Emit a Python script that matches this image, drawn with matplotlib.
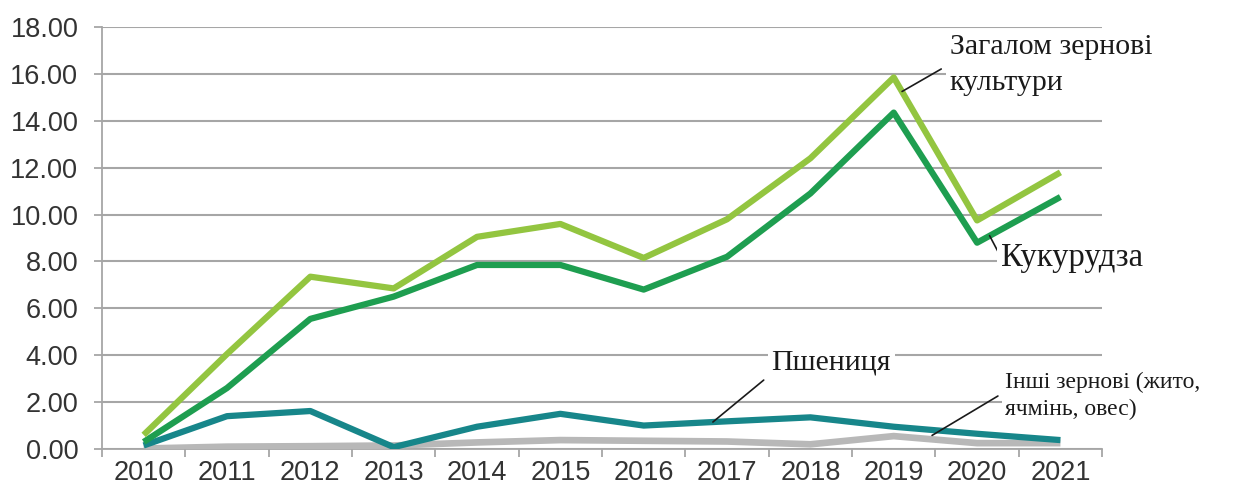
"""Grain export chart: total grains, corn, wheat and other grains, 2010-2021."""

import matplotlib

matplotlib.use("Agg")
import matplotlib.pyplot as plt
import numpy as np

years = ["2010", "2011", "2012", "2013", "2014", "2015",
         "2016", "2017", "2018", "2019", "2020", "2021"]
total = [0.6, 4.05, 7.35, 6.85, 9.05, 9.6, 8.15, 9.8, 12.4, 15.85, 9.75, 11.8]
corn = [0.3, 2.6, 5.55, 6.5, 7.85, 7.85, 6.8, 8.2, 10.9, 14.35, 8.8, 10.75]
wheat = [0.15, 1.4, 1.62, 0.08, 0.95, 1.5, 1.0, 1.18, 1.35, 0.95, 0.65, 0.38]
other = [0.02, 0.1, 0.12, 0.15, 0.28, 0.38, 0.35, 0.32, 0.2, 0.55, 0.25, 0.25]
y_ticks = [0, 2, 4, 6, 8, 10, 12, 14, 16, 18]

GRID = "#a6a6a6"
SERIF = ["Liberation Serif", "DejaVu Serif"]
SANS = ["Liberation Sans", "DejaVu Sans"]

fig = plt.figure(figsize=(12.39, 4.94), dpi=100)
ax = fig.add_axes([0.0823, 0.0911, 0.8072, 0.8542])

x = np.arange(len(years))
ax.plot(x, other, color="#b8b8b8", lw=4.8, solid_capstyle="butt", zorder=3)
ax.plot(x, wheat, color="#17868a", lw=4.5, solid_capstyle="butt", zorder=4)
ax.plot(x, corn, color="#1e9e50", lw=4.5, solid_capstyle="butt", zorder=5)
ax.plot(x, total, color="#93c540", lw=4.5, solid_capstyle="butt", zorder=6)

ax.set_xlim(-0.5, len(years) - 0.5)
ax.set_ylim(0, 18)
ax.set_yticks(y_ticks)
ax.set_yticklabels([f"{v:.2f}" for v in y_ticks])
ax.set_xticks(np.arange(len(years) + 1) - 0.5)
ax.set_xticklabels([])
ax.set_xticks(x, minor=True)
ax.set_xticklabels(years, minor=True)
ax.tick_params(axis="x", which="major", length=6, color=GRID, width=1.3)
ax.tick_params(axis="x", which="minor", length=0, pad=8,
               labelsize=19.5, labelcolor="#333333")
ax.tick_params(axis="y", length=6, color=GRID, width=1.3, pad=11,
               labelsize=19.5, labelcolor="#333333")
for lab in ax.get_xticklabels(minor=True) + ax.get_yticklabels():
    lab.set_family(SANS)

for side in ("top", "right"):
    ax.spines[side].set_visible(False)
for side in ("left", "bottom"):
    ax.spines[side].set_color(GRID)
    ax.spines[side].set_linewidth(1.3)
ax.yaxis.grid(True, color=GRID, lw=1.5)
ax.set_axisbelow(True)

box = dict(boxstyle="square,pad=0.12", fc="white", ec="none")
line = dict(arrowstyle="-", color="#1a1a1a", lw=1.2, shrinkA=0, shrinkB=0)
# text, point on the series, end of the leader, text position, alignment, size, spacing
labels = [
    ("Загалом зернові\nкультури", (9.1, 15.25), (9.57, 16.21), (9.67, 16.38), "left", 21.5, 1.5),
    ("Кукурудза", (10.15, 9.1), (10.26, 8.36), (10.29, 8.15), "left", 23.5, 1.2),
    ("Пшениця", (6.83, 1.15), (7.44, 2.94), (8.25, 3.71), "center", 21.5, 1.2),
    ("Інші зернові (жито,\nячмінь, овес)", (9.46, 0.58), (10.25, 2.26), (10.33, 2.26), "left", 17, 1.4),
]
for text, anchor, end, pos, ha, size, spacing in labels:
    ax.annotate("", xy=anchor, xytext=end, arrowprops=line,
                zorder=7, annotation_clip=False)
    ax.text(pos[0], pos[1], text, ha=ha, va="center", fontsize=size,
            family=SERIF, color="#1a1a1a", linespacing=spacing, bbox=box,
            zorder=8, clip_on=False)

fig.savefig("out.png", dpi=100)
plt.close(fig)
